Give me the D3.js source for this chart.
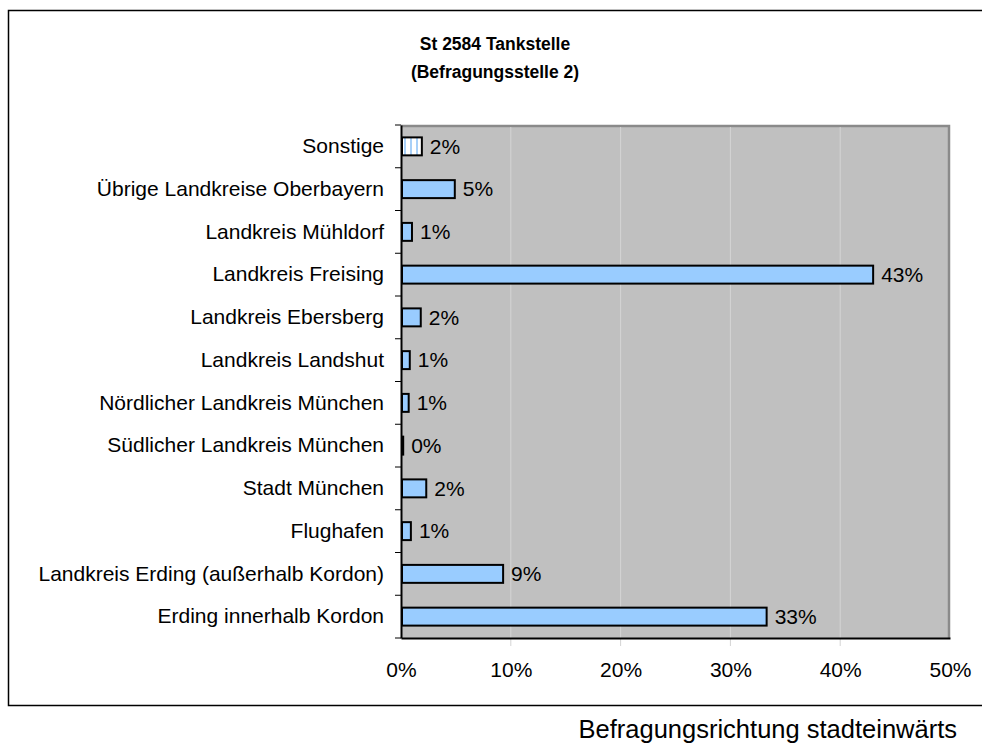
<!DOCTYPE html>
<html>
<head>
<meta charset="utf-8">
<script src="https://cdn.jsdelivr.net/npm/d3@7"></script>
<style>
body { margin: 0; background: #fff; }
text { font-family: "Liberation Sans", Arial, sans-serif; fill: #000; }
</style>
</head>
<body>
<div id="chart"></div>
<script>
// data (top to bottom as shown)
var categories = ["Sonstige", "Übrige Landkreise Oberbayern", "Landkreis Mühldorf", "Landkreis Freising",
  "Landkreis Ebersberg", "Landkreis Landshut", "Nördlicher Landkreis München", "Südlicher Landkreis München",
  "Stadt München", "Flughafen", "Landkreis Erding (außerhalb Kordon)", "Erding innerhalb Kordon"];
var values = [1.9, 4.9, 1.0, 43.0, 1.8, 0.8, 0.7, 0.2, 2.3, 0.9, 9.3, 33.3];
var valueLabels = ["2%", "5%", "1%", "43%", "2%", "1%", "1%", "0%", "2%", "1%", "9%", "33%"];
var xTicks = [0, 10, 20, 30, 40, 50];
var titleLines = ["St 2584 Tankstelle", "(Befragungsstelle 2)"];
var footer = "Befragungsrichtung stadteinwärts";

var W = 982, H = 747;
var plot = {left: 401, right: 950, top: 125, bottom: 638};
var fs = "21px";

var svg = d3.select("#chart").append("svg")
  .attr("width", W).attr("height", H);

var defs = svg.append("defs");
var pat = defs.append("pattern").attr("id", "stripes")
  .attr("patternUnits", "userSpaceOnUse").attr("width", 6).attr("height", 6);
pat.append("rect").attr("width", 6).attr("height", 6).attr("fill", "#fff");
pat.append("rect").attr("x", 2).attr("width", 2).attr("height", 6).attr("fill", "#a8d0f8");

// outer frame (no right side)
svg.append("path")
  .attr("d", "M" + W + ",10.5 H8.5 V705.5 H" + W)
  .attr("fill", "none").attr("stroke", "#000").attr("stroke-width", 1.5);

var x = d3.scaleLinear().domain([0, 50]).range([plot.left, plot.right]);
var y = d3.scaleBand().domain(categories).range([plot.top, plot.bottom]).paddingInner(0.58).paddingOuter(0.29);

// plot background
svg.append("rect")
  .attr("x", plot.left).attr("y", plot.top)
  .attr("width", plot.right - plot.left).attr("height", plot.bottom - plot.top)
  .attr("fill", "#c0c0c0");
// darker top/right edge
svg.append("path")
  .attr("d", "M" + plot.left + "," + (plot.top + 1) + " H" + (plot.right - 1) + " V" + plot.bottom)
  .attr("fill", "none").attr("stroke", "#8a8a8a").attr("stroke-width", 2.5);

// gridlines
svg.append("g").selectAll("line").data(xTicks.slice(1, -1)).join("line")
  .attr("x1", d => x(d)).attr("x2", d => x(d))
  .attr("y1", plot.top + 2).attr("y2", plot.bottom + 8)
  .attr("stroke", "#d4d4d4").attr("stroke-width", 1);

// x axis
var xAxis = svg.append("g").attr("transform", "translate(0," + plot.bottom + ")")
  .call(d3.axisBottom(x).tickValues(xTicks).tickFormat(d => d + "%").tickSize(0).tickPadding(24));
xAxis.select(".domain").attr("stroke", "#000").attr("stroke-width", 2);
xAxis.selectAll("text").style("font-size", fs).style("font-family", "Liberation Sans, Arial, sans-serif");

// y axis
var yAxis = svg.append("g").attr("transform", "translate(" + plot.left + ",0)")
  .call(d3.axisLeft(y).tickSize(0).tickPadding(17));
yAxis.select(".domain").attr("stroke", "#000").attr("stroke-width", 2);
yAxis.selectAll("text").style("font-size", fs).style("font-family", "Liberation Sans, Arial, sans-serif");

// y tick marks between categories
var bounds = d3.range(categories.length + 1).map(i => plot.top + i * (plot.bottom - plot.top) / categories.length);
svg.append("g").selectAll("line").data(bounds).join("line")
  .attr("x1", plot.left - 6).attr("x2", plot.left)
  .attr("y1", d => d).attr("y2", d => d)
  .attr("stroke", "#000").attr("stroke-width", 1);

// bars
svg.append("g").selectAll("rect").data(categories).join("rect")
  .attr("x", x(0) + 1)
  .attr("y", d => y(d))
  .attr("width", (d, i) => Math.max(x(values[i]) - x(0) - 1, 1))
  .attr("height", y.bandwidth())
  .attr("fill", (d, i) => i === 0 ? "url(#stripes)" : "#99ccff")
  .attr("stroke", "#000").attr("stroke-width", 2);

// value labels
svg.append("g").selectAll("text").data(categories).join("text")
  .attr("x", (d, i) => x(values[i]) + 8)
  .attr("y", d => y(d) + y.bandwidth() / 2)
  .attr("dy", "0.35em")
  .style("font-size", fs)
  .text((d, i) => valueLabels[i]);

// title
svg.append("g").selectAll("text").data(titleLines).join("text")
  .attr("x", 495).attr("y", (d, i) => 50 + i * 28)
  .attr("text-anchor", "middle")
  .style("font-size", "17.5px").style("font-weight", "bold")
  .text(d => d);

// footer
svg.append("text")
  .attr("x", 957).attr("y", 738)
  .attr("text-anchor", "end")
  .style("font-size", "25.5px")
  .text(footer);
</script>
</body>
</html>
